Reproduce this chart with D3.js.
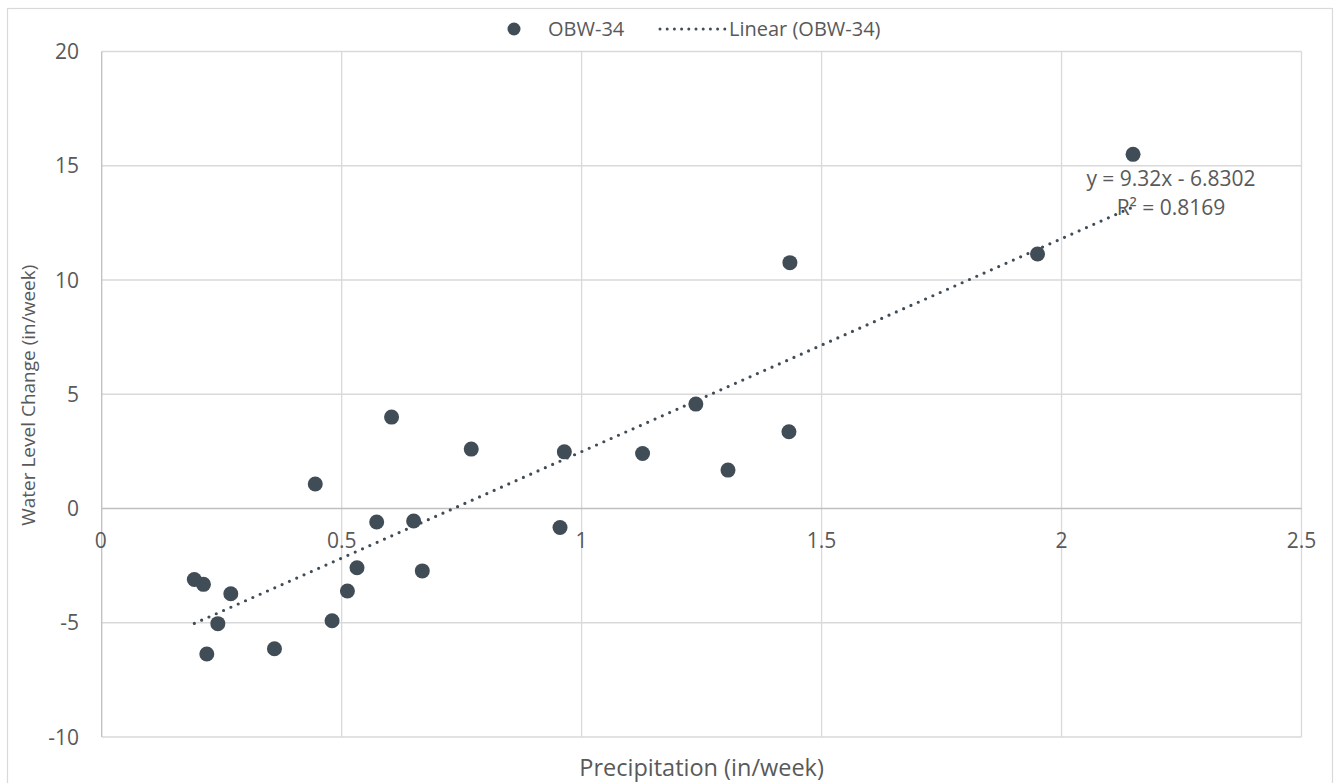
<!DOCTYPE html>
<html><head><meta charset="utf-8">
<script src="https://cdn.jsdelivr.net/npm/d3@7"></script>
<style>body{margin:0;background:#fff}svg{display:block}text{font-family:"Open Sans",sans-serif;fill:#595959}</style>
</head><body>
<svg id="c" width="1338" height="783"></svg>
<script>
const precipitation = [0.193,0.212,0.269,0.242,0.219,0.360,0.480,0.512,0.532,0.573,0.650,0.668,0.445,0.955,0.604,0.770,0.964,1.127,1.238,1.305,1.434,1.432,2.149,1.950];
const waterLevel   = [-3.11,-3.32,-3.73,-5.04,-6.37,-6.14,-4.91,-3.61,-2.59,-0.59,-0.55,-2.73,1.07,-0.83,4.00,2.60,2.48,2.41,4.57,1.68,10.76,3.36,15.50,11.14];
const xTicks = [0,0.5,1,1.5,2,2.5];
const yTicks = [-10,-5,0,5,10,15,20];
const trendSlope = 9.32, trendIntercept = -6.8302, rSquared = 0.8169;
const seriesName = "OBW-34";

const svg = d3.select("#c");
const m = {l:101.7, r:1301.5, t:51.5, b:737};
const x = d3.scaleLinear().domain([0,2.5]).range([m.l,m.r]);
const y = d3.scaleLinear().domain([-10,20]).range([m.b,m.t]);
const col = "#404c56";

svg.append("rect").attr("x",7.5).attr("y",8.5).attr("width",1325).attr("height",790).attr("fill","#fff").attr("stroke","#d9d9d9").attr("stroke-width",1.2);

svg.append("g").selectAll("line").data(xTicks.slice(1)).join("line")
  .attr("x1",d=>x(d)).attr("x2",d=>x(d)).attr("y1",m.t).attr("y2",m.b)
  .attr("stroke","#d9d9d9").attr("stroke-width",1.3);
svg.append("g").selectAll("line").data(yTicks.filter(d=>d!==0)).join("line")
  .attr("x1",m.l).attr("x2",m.r).attr("y1",d=>y(d)).attr("y2",d=>y(d))
  .attr("stroke","#d9d9d9").attr("stroke-width",1.3);
svg.append("line").attr("x1",m.l).attr("x2",m.r).attr("y1",y(0)).attr("y2",y(0)).attr("stroke","#bfbfbf").attr("stroke-width",1.3);
svg.append("line").attr("x1",m.l).attr("x2",m.l).attr("y1",m.t).attr("y2",m.b).attr("stroke","#bfbfbf").attr("stroke-width",1.3);

svg.append("g").selectAll("text").data(xTicks).join("text")
  .attr("x",d=>x(d)-(d===0?1:0)).attr("y",y(0)+39).attr("text-anchor","middle")
  .attr("font-size",21).text(d=>d);
svg.append("g").selectAll("text").data(yTicks).join("text")
  .attr("x",79).attr("y",d=>y(d)+7.5).attr("text-anchor","end")
  .attr("font-size",21).text(d=>d);

svg.append("text").attr("x",(m.l+m.r)/2).attr("y",776).attr("text-anchor","middle").attr("font-size",23.5).text("Precipitation (in/week)");
svg.append("text").attr("transform",`translate(35,${y(5)+1}) rotate(-90)`).attr("text-anchor","middle").attr("font-size",19).text("Water Level Change (in/week)");

const xMin = d3.min(precipitation), xMax = d3.max(precipitation);
svg.append("line").attr("x1",x(xMin)).attr("y1",y(trendSlope*xMin+trendIntercept))
  .attr("x2",x(xMax)).attr("y2",y(trendSlope*xMax+trendIntercept))
  .attr("stroke",col).attr("stroke-width",3.2).attr("stroke-linecap","round").attr("stroke-dasharray","0,8");

svg.append("g").selectAll("circle").data(precipitation.map((p,i)=>[p,waterLevel[i]])).join("circle")
  .attr("cx",d=>x(d[0])).attr("cy",d=>y(d[1])).attr("r",7.5).attr("fill",col);

svg.append("text").attr("x",1171).attr("y",186).attr("text-anchor","middle").attr("font-size",21).text(`y = ${trendSlope}x - ${Math.abs(trendIntercept)}`);
svg.append("text").attr("x",1171).attr("y",215).attr("text-anchor","middle").attr("font-size",21).text(`R² = ${rSquared}`);

svg.append("circle").attr("cx",514).attr("cy",29).attr("r",6.5).attr("fill",col);
svg.append("text").attr("x",548).attr("y",36).attr("font-size",20).text(seriesName);
svg.append("line").attr("x1",660).attr("x2",725).attr("y1",29).attr("y2",29).attr("stroke",col).attr("stroke-width",3).attr("stroke-linecap","round").attr("stroke-dasharray","0,7.2");
svg.append("text").attr("x",729).attr("y",36).attr("font-size",20).text(`Linear (${seriesName})`);
</script>
</body></html>
